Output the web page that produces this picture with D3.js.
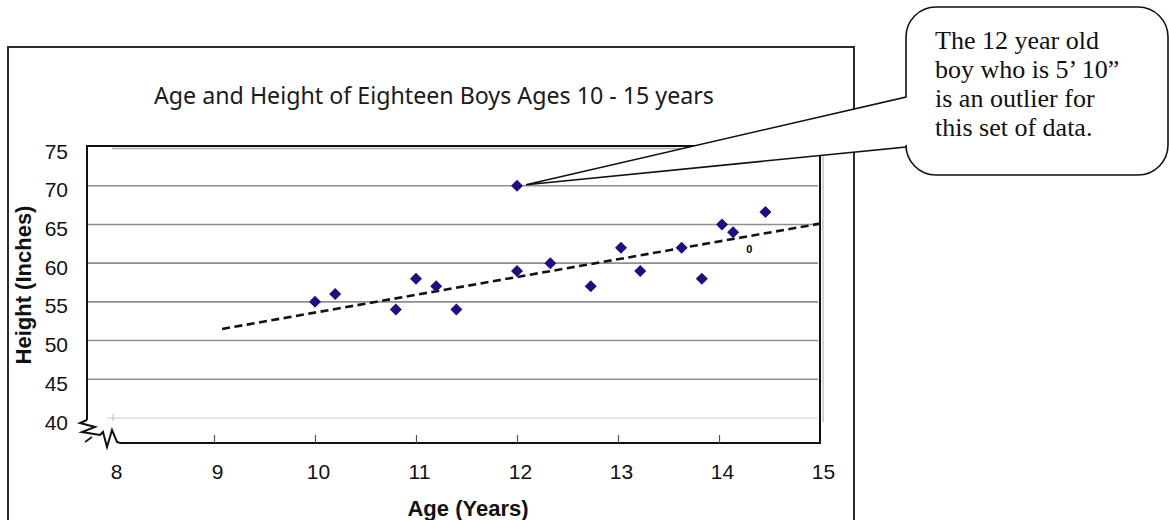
<!DOCTYPE html>
<html><head><meta charset="utf-8">
<script src="https://cdn.jsdelivr.net/npm/d3@7"></script>
<style>body{margin:0;background:#fff}svg{display:block}</style>
</head><body><svg id="c" width="1169" height="520"></svg>
<script>
// ---------- data ----------
const title = "Age and Height of Eighteen Boys Ages 10 - 15 years";
const xLabel = "Age (Years)";
const yLabel = "Height (Inches)";
const ages    = [10, 10.2, 10.8, 11, 11.2, 11.4, 12, 12, 12.33, 12.73, 13.03, 13.22, 13.63, 13.83, 14.03, 14.14, 14.46];
const heights = [55, 56, 54, 58, 57, 54, 70, 59, 60, 57, 62, 59, 62, 58, 65, 64, 66.6];
const trendAges = [9.08, 15];
const trendHeights = [51.5, 65.1];
const markAges = [14.3];
const markHeights = [61.8];
const markLabels = ["0"];
const xTickValues = [8, 9, 10, 11, 12, 13, 14, 15];
const yTickValues = [40, 45, 50, 55, 60, 65, 70, 75];
const calloutLines = ["The 12 year old", "boy who is 5\u2019 10\u201D", "is an outlier for", "this set of data."];
const outlierIndex = 6;

// ---------- drawing ----------
(function () {
const svg = d3.select("#c");
const x = d3.scaleLinear().domain([8, 15]).range([113, 820]);
const y = d3.scaleLinear().domain([40, 75]).range([418, 147]);
const pLeft = 87, pRight = x(15), pTop = y(75) - 1, axisY = y(40) + 25;

// outer chart frame
svg.append("rect").attr("x", 8).attr("y", 47).attr("width", 846).attr("height", 500)
  .attr("fill", "none").attr("stroke", "#2a2a2a").attr("stroke-width", 2);

// title
svg.append("text").attr("x", 154).attr("y", 104)
  .attr("textLength", 560).attr("lengthAdjust", "spacingAndGlyphs")
  .style("font-family", "'Noto Sans', 'Open Sans', sans-serif").style("font-size", "23px")
  .attr("fill", "#1a1a1a").text(title);

// gridlines
const grid = svg.append("g");
yTickValues.forEach(v => {
  let x1 = pLeft + 1, col = "#8e8e8e", w = 1.6, off = 0;
  if (v === 75) { x1 = 112; col = "#b0b0b0"; off = 1.5; }
  if (v === 40) { x1 = 107; col = "#cfcfcf"; w = 1; }
  grid.append("line").attr("x1", x1).attr("x2", pRight - 2)
    .attr("y1", y(v) + off).attr("y2", y(v) + off)
    .attr("stroke", col).attr("stroke-width", w);
});
grid.append("line").attr("x1", x(8)).attr("x2", x(8)).attr("y1", y(40) - 4).attr("y2", y(40) + 3)
  .attr("stroke", "#bbb").attr("stroke-width", 1);

// secondary grey right edge
svg.append("line").attr("x1", pRight + 3).attr("x2", pRight + 3).attr("y1", pTop).attr("y2", y(40) + 4)
  .attr("stroke", "#c4c4c4").attr("stroke-width", 1.5);

// plot frame
const frame = svg.append("g").attr("stroke", "#111").attr("stroke-width", 2).attr("fill", "none");
frame.append("path").attr("d", `M${pLeft},${y(40) + 2} V${pTop} H${pRight} V${axisY} H${pLeft + 33}`);

// zigzag break
const zz = [[0, 2], [-7, 5], [8, 9], [-5, 14], [13, 17], [16, 14], [20, 29], [25, 12], [30, 24], [33, 25]];
frame.append("path").attr("d", d3.line()(zz.map(p => [pLeft + p[0], y(40) + p[1]])));
frame.append("path").attr("d", `M${pLeft + 5},${y(40) + 19} L${pLeft - 2},${y(40) + 24}`).attr("stroke-width", 1.6);

// x axis
const xAxis = svg.append("g").attr("transform", `translate(0,${axisY})`)
  .call(d3.axisBottom(x).tickValues(xTickValues).tickFormat(d3.format("d"))
    .tickSizeInner(-8).tickSizeOuter(0).tickPadding(21));
xAxis.select(".domain").remove();
xAxis.selectAll(".tick line").attr("stroke", "#555").attr("stroke-width", 1.2)
  .filter(d => d === 8 || d === 15).remove();
xAxis.selectAll(".tick text").attr("dx", 3).attr("fill", "#111")
  .style("font-family", "'Liberation Sans', Arial, sans-serif").style("font-size", "21px");

// y axis
const yAxis = svg.append("g").attr("transform", `translate(${pLeft},0)`)
  .call(d3.axisLeft(y).tickValues(yTickValues).tickFormat(d3.format("d")).tickSize(0).tickPadding(19));
yAxis.select(".domain").remove();
yAxis.selectAll(".tick text").attr("dy", 11).attr("fill", "#111")
  .style("font-family", "'Liberation Sans', Arial, sans-serif").style("font-size", "21px");

// axis titles
svg.append("text").attr("x", 468).attr("y", 516).attr("text-anchor", "middle")
  .style("font-family", "'Liberation Sans', Arial, sans-serif").style("font-size", "22px").style("font-weight", "bold")
  .attr("fill", "#111").text(xLabel);
svg.append("text").attr("transform", "translate(31,285) rotate(-90)").attr("text-anchor", "middle")
  .style("font-family", "'Liberation Sans', Arial, sans-serif").style("font-size", "22px").style("font-weight", "bold")
  .attr("fill", "#111").text(yLabel);

// trend line
svg.append("path").datum(trendAges.map((a, i) => [a, trendHeights[i]]))
  .attr("d", d3.line().x(d => x(d[0])).y(d => y(d[1])))
  .attr("fill", "none").attr("stroke", "#111").attr("stroke-width", 2.6).attr("stroke-dasharray", "8,4.5");

// points
svg.append("g").selectAll("path").data(ages.map((a, i) => [a, heights[i]])).join("path")
  .attr("d", d3.symbol().type(d3.symbolSquare).size(72))
  .attr("transform", d => `translate(${x(d[0])},${y(d[1])}) rotate(45)`)
  .attr("fill", "#1c1080");

// small mark
svg.append("g").selectAll("text").data(markAges.map((a, i) => [a, markHeights[i], markLabels[i]])).join("text")
  .attr("x", d => x(d[0])).attr("y", d => y(d[1]) + 4).attr("text-anchor", "middle")
  .style("font-family", "'Liberation Sans', Arial, sans-serif").style("font-size", "11px").style("font-weight", "bold")
  .text(d => d[2]);

// callout
const L = 906, T = 7, R = 1168, B = 175, r = 30, ya = 97, yb = 147;
const tipX = x(ages[outlierIndex]) + 9, tipY = y(heights[outlierIndex]) - 1;
svg.append("path").attr("d",
  `M${L + r},${T} H${R - r} A${r},${r} 0 0 1 ${R},${T + r} V${B - r} A${r},${r} 0 0 1 ${R - r},${B} H${L + r} A${r},${r} 0 0 1 ${L},${B - r} V${yb} L${tipX},${tipY} L${L},${ya} V${T + r} A${r},${r} 0 0 1 ${L + r},${T} Z`)
  .attr("fill", "#fff").attr("stroke", "#111").attr("stroke-width", 1.6);
svg.append("g").selectAll("text").data(calloutLines).join("text")
  .attr("x", 935).attr("y", (d, i) => 49 + i * 29)
  .style("font-family", "'Liberation Serif', 'Times New Roman', serif").style("font-size", "26px")
  .attr("fill", "#111").text(d => d);
})();
</script>
</body></html>
